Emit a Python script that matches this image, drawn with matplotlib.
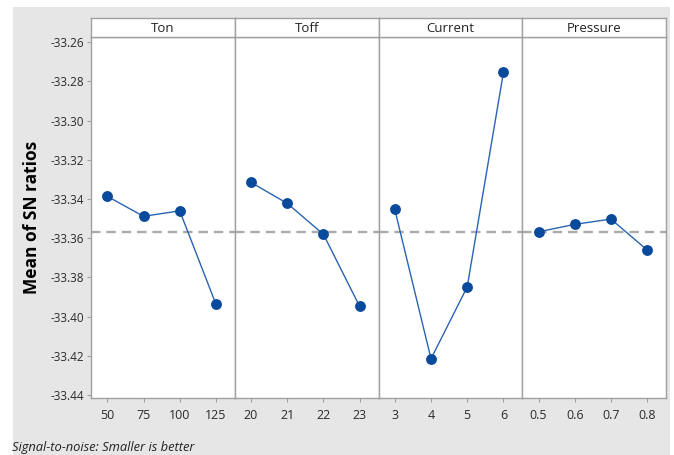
import matplotlib
matplotlib.use("Agg")
import matplotlib.pyplot as plt

factors = ["Ton", "Toff", "Current", "Pressure"]
levels = [["50", "75", "100", "125"],
          ["20", "21", "22", "23"],
          ["3", "4", "5", "6"],
          ["0.5", "0.6", "0.7", "0.8"]]
ton_means = [-33.3386, -33.3488, -33.3460, -33.3936]
toff_means = [-33.3315, -33.3422, -33.3580, -33.3948]
current_means = [-33.3453, -33.4215, -33.3848, -33.2754]
pressure_means = [-33.3567, -33.3529, -33.3502, -33.3660]
series = [ton_means, toff_means, current_means, pressure_means]
overall_mean = -33.3568
yticks = [-33.26, -33.28, -33.30, -33.32, -33.34, -33.36, -33.38, -33.40, -33.42, -33.44]

plt.rcParams['font.family'] = ['Open Sans', 'DejaVu Sans']

W, H = 674, 455
fig = plt.figure(figsize=(W / 100, H / 100), dpi=100, facecolor="white")
bg = fig.add_axes([13 / W, 0, 1 - 13 / W - 4 / W, 1 - 7 / H], zorder=-10)
bg.set_facecolor("#e6e6e6")
bg.set_xticks([])
bg.set_yticks([])
for s in bg.spines.values():
    s.set_visible(False)

left, right = 91, 666
top_data, bottom = 37, 398
head_top = 18
pw = (right - left) / 4
edge = "#a0a0a0"
for i in range(4):
    x0 = left + i * pw
    ax = fig.add_axes([x0 / W, 1 - bottom / H, pw / W, (bottom - top_data) / H])
    ax.set_facecolor("white")
    xs = list(range(4))
    ax.axhline(overall_mean, color="#ababab", lw=1.7, ls=(0, (4, 2.5)), zorder=1)
    ax.plot(xs, series[i], color="#2a64b0", lw=1.0, marker="o", ms=6.8,
            mfc="#0a4a9c", mec="#0a4a9c", zorder=3)
    ax.set_xlim(-0.45, 3.52)
    ax.set_ylim(-33.4415, -33.2573)
    ax.set_xticks(xs)
    ax.set_xticklabels(levels[i])
    ax.tick_params(axis="x", length=3, color=edge, labelsize=9, labelcolor="#2a2a2a", pad=5)
    if i == 0:
        ax.set_yticks(yticks)
        ax.set_yticklabels([f"{v:.2f}" for v in yticks])
        ax.tick_params(axis="y", length=3, color=edge, labelsize=8.5, labelcolor="#2a2a2a", pad=2)
        ax.set_ylabel("Mean of SN ratios", fontsize=12.5, fontweight="bold", labelpad=7)
    else:
        ax.set_yticks([])
    for s in ax.spines.values():
        s.set_color(edge)
        s.set_linewidth(1.0)
    hax = fig.add_axes([x0 / W, 1 - top_data / H, pw / W, (top_data - head_top) / H])
    hax.set_facecolor("white")
    hax.set_xticks([])
    hax.set_yticks([])
    for s in hax.spines.values():
        s.set_color(edge)
        s.set_linewidth(1.0)
    hax.text(0.5, 0.45, factors[i], ha="center", va="center", fontsize=9.5,
             color="#222222", transform=hax.transAxes)

fig.text(12 / W, 1 - 447 / H, "Signal-to-noise: Smaller is better", fontsize=9.3,
         style="italic", color="#222222", ha="left", va="center")

fig.savefig("out.png", dpi=100, facecolor=fig.get_facecolor())
